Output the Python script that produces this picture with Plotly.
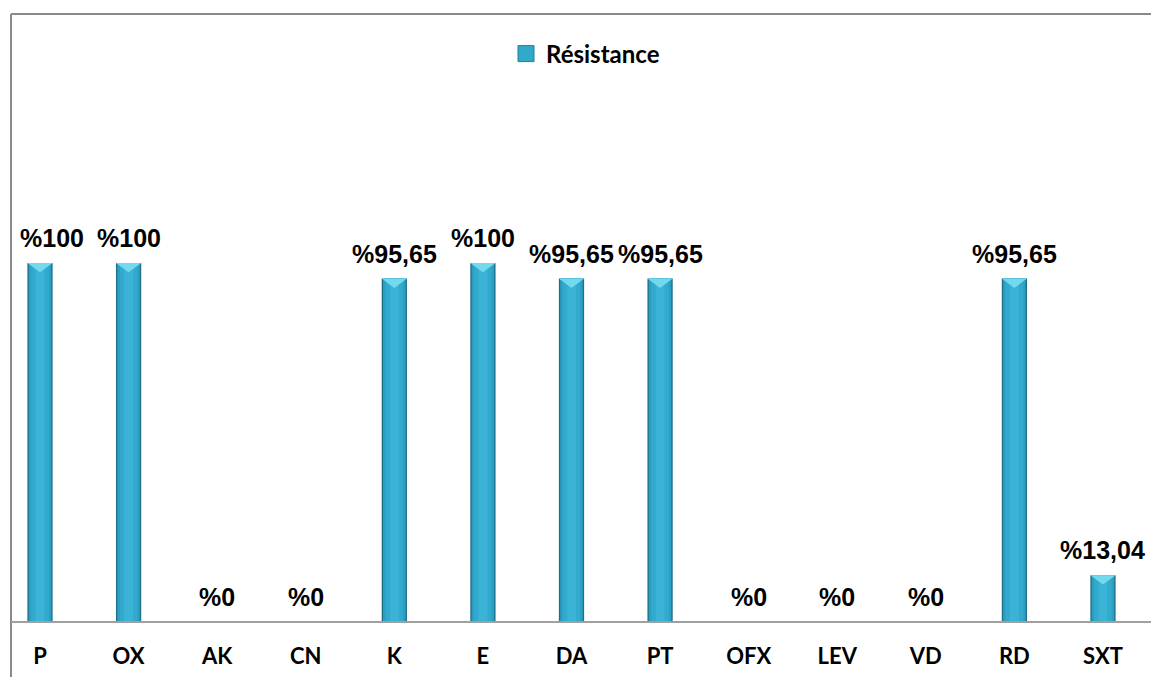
import plotly.graph_objects as go

categories = ["P", "OX", "AK", "CN", "K", "E", "DA", "PT", "OFX", "LEV", "VD", "RD", "SXT"]
values = [100, 100, 0, 0, 95.65, 100, 95.65, 95.65, 0, 0, 0, 95.65, 13.04]
value_labels = ["%100", "%100", "%0", "%0", "%95,65", "%100", "%95,65", "%95,65",
                "%0", "%0", "%0", "%95,65", "%13,04"]
series_name = "Résistance"

xs = list(range(len(categories)))

W, H = 1151, 677
ML, MR, MT, MB = 0, 0, 13, 55
BAR_W = 0.285
YMAX = 169.6
BEVEL_H = 2.6

fig = go.Figure()

# layered bars to mimic the cylindrical gradient
for width, color in [(BAR_W, "#1e6f88"), (0.255, "#2b9fc2"), (0.2, "#32aacd"), (0.1, "#3ab3d6")]:
    fig.add_trace(go.Bar(x=xs, y=values, width=width, marker=dict(color=color, line=dict(width=0)),
                         showlegend=False, hoverinfo="skip"))

# top bevel triangles
tx, ty = [], []
hw = BAR_W / 2
for x, v in zip(xs, values):
    if v > 0:
        tx += [x - hw, x + hw, x, x - hw, None]
        ty += [v, v, v - BEVEL_H, v, None]
fig.add_trace(go.Scatter(x=tx, y=ty, mode="lines", fill="toself", fillcolor="#72d9ef",
                         line=dict(width=0), showlegend=False, hoverinfo="skip"))

# legend swatch
fig.add_trace(go.Scatter(x=[None], y=[None], mode="markers", name=series_name,
                         marker=dict(symbol="square", size=16, color="#33a9c9",
                                     line=dict(color="#1d7f9c", width=1))))

# data labels
for i, (x, v, t) in enumerate(zip(xs, values, value_labels)):
    fig.add_annotation(x=x, y=v, text=t, showarrow=False, yanchor="bottom",
                       yshift=9, xshift=12 if i == 0 else 0,
                       font=dict(family="Liberation Sans, Arial", size=25, color="black", weight="bold"))

# chart border (left and top) and category axis line
y_top = (H - MB - 14) / (H - MT - MB)
y_bot = (H - MB - H) / (H - MT - MB)
fig.add_shape(type="line", xref="paper", yref="paper", x0=11 / W, x1=11 / W, y0=y_bot, y1=y_top,
              line=dict(color="#8a8a8a", width=2))
fig.add_shape(type="line", xref="paper", yref="paper", x0=11 / W, x1=1, y0=y_top, y1=y_top,
              line=dict(color="#8a8a8a", width=2))
fig.add_shape(type="line", xref="paper", yref="paper", x0=11 / W, x1=1, y0=0, y1=0,
              line=dict(color="#a0a0a0", width=2))

fig.update_layout(
    width=W, height=H,
    margin=dict(l=ML, r=MR, t=MT, b=MB),
    paper_bgcolor="white", plot_bgcolor="white",
    barmode="overlay",
    showlegend=True,
    legend=dict(x=506 / W, xanchor="left", y=(H - MB - 54) / (H - MT - MB), yanchor="middle",
                font=dict(family="Lato", size=24, color="black", weight="bold"),
                bgcolor="rgba(0,0,0,0)"),
    xaxis=dict(range=[-0.4516, 12.542], tickmode="array", tickvals=xs, ticktext=categories,
               showgrid=False, zeroline=False, showline=False,
               ticks="outside", ticklen=15, tickcolor="rgba(0,0,0,0)",
               tickfont=dict(family="Lato", size=22, color="black", weight="bold"),
               fixedrange=True),
    yaxis=dict(range=[0, YMAX], visible=False, fixedrange=True),
)

fig.write_html("out.html")
